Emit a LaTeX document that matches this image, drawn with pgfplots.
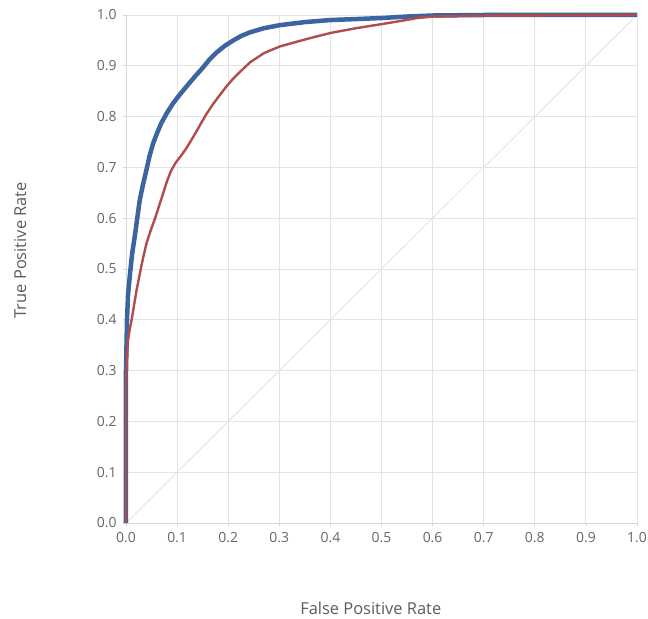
\documentclass[border=0pt]{standalone}
\usepackage{fontspec}
\setmainfont{Open Sans}
\usepackage{pgfplots}
\pgfplotsset{compat=1.18}
\definecolor{cblue}{HTML}{3B64A0}
\definecolor{cred}{HTML}{B24C4C}
\definecolor{cgrid}{HTML}{E3E3E3}
\definecolor{ctext}{HTML}{666666}
\begin{document}
\begin{tikzpicture}
\path[use as bounding box] (-126bp,-96bp) rectangle (522bp,523bp);
\begin{axis}[
  scale only axis,
  width=511bp, height=508bp,
  xmin=0, xmax=1, ymin=0, ymax=1,
  xtick={0,0.1,...,1.0}, ytick={0,0.1,...,1.0},
  xticklabels={0.0,0.1,0.2,0.3,0.4,0.5,0.6,0.7,0.8,0.9,1.0},
  yticklabels={0.0,0.1,0.2,0.3,0.4,0.5,0.6,0.7,0.8,0.9,1.0},
  axis lines*=left,
  axis line style={draw=cgrid!150, line width=0.8bp},
  grid=major,
  major grid style={draw=cgrid, line width=0.9bp},
  tick align=outside,
  major tick length=3bp,
  tick style={draw=cgrid!150, line width=0.8bp},
  ticklabel style={font=\fontsize{14}{16}\selectfont, text=ctext},
  xticklabel shift=3bp,
  yticklabel shift=3bp,
  xlabel={False Positive Rate},
  ylabel={True Positive Rate},
  label style={font=\fontsize{16.5}{18}\selectfont, text=ctext!90!black},
  xlabel style={at={(axis description cs:0.479,-0.167)}, anchor=center},
  ylabel style={at={(axis description cs:-0.207,0.537)}, anchor=center},
  clip=false,
]
\addplot[cgrid, line width=0.9bp] coordinates {(0,0) (1,1)};
\addplot[cblue, line width=4.5bp, line join=round] coordinates {
(0,0)(0,0.30)(0.001,0.35)(0.002,0.40)(0.004,0.45)(0.008,0.492)(0.012,0.53)(0.018,0.57)(0.022,0.60)(0.027,0.636)(0.033,0.665)(0.040,0.695)(0.046,0.722)(0.053,0.747)(0.061,0.768)(0.069,0.787)(0.080,0.807)(0.092,0.826)(0.105,0.843)(0.119,0.860)(0.135,0.879)(0.151,0.897)(0.163,0.912)(0.177,0.926)(0.193,0.939)(0.210,0.950)(0.226,0.959)(0.243,0.966)(0.270,0.974)(0.301,0.980)(0.350,0.986)(0.399,0.990)(0.450,0.992)(0.500,0.994)(0.550,0.997)(0.600,0.999)(0.700,1.0)(1.0,1.0)
};
\addplot[cred, line width=2.4bp, line join=round] coordinates {
(0,0)(0,0.28)(0.002,0.33)(0.004,0.36)(0.008,0.385)(0.011,0.40)(0.016,0.43)(0.021,0.46)(0.027,0.49)(0.033,0.52)(0.040,0.55)(0.048,0.575)(0.057,0.60)(0.065,0.625)(0.073,0.650)(0.080,0.672)(0.088,0.693)(0.097,0.709)(0.107,0.722)(0.119,0.739)(0.128,0.754)(0.138,0.771)(0.148,0.789)(0.158,0.806)(0.170,0.824)(0.184,0.843)(0.197,0.860)(0.210,0.875)(0.223,0.888)(0.243,0.907)(0.270,0.925)(0.301,0.938)(0.340,0.949)(0.370,0.957)(0.402,0.965)(0.450,0.974)(0.500,0.982)(0.536,0.988)(0.570,0.994)(0.600,0.997)(0.700,0.999)(1.0,1.0)
};
\end{axis}
\end{tikzpicture}
\end{document}
